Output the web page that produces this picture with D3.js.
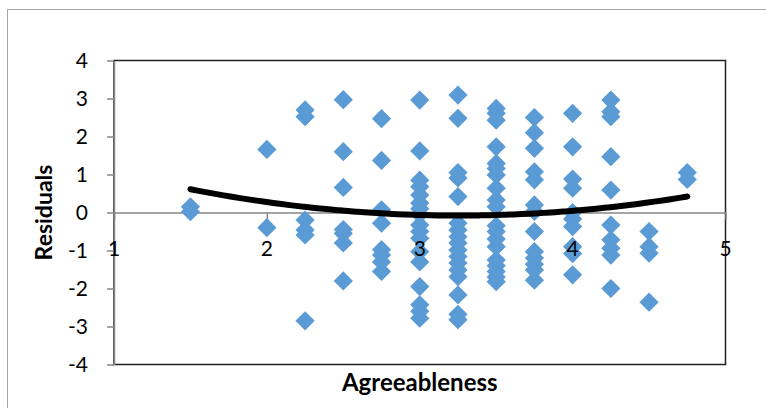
<!DOCTYPE html>
<html>
<head>
<meta charset="utf-8">
<script src="https://cdn.jsdelivr.net/npm/d3@7"></script>
<style>
  body { margin: 0; background: #fff; }
  svg { display: block; font-family: Lato, "Open Sans", sans-serif; }
</style>
</head>
<body>
<svg></svg>
<script>
var width  = 766,
    height = 408;

// agreeableness levels and the residuals seen at each level
var agreeLevels = [1.5, 2, 2.25, 2.5, 2.75, 3, 3.25, 3.5, 3.75, 4, 4.25, 4.5, 4.75];
var residualsByLevel = [
  [0.15, 0.02],
  [1.66, -0.4],
  [2.7, 2.52, -0.2, -0.46, -0.59, -2.85],
  [2.97, 1.6, 0.66, -0.45, -0.55, -0.8, -1.8],
  [2.47, 1.37, 0.07, -0.28, -0.98, -1.12, -1.3, -1.55],
  [2.96, 1.62, 0.85, 0.68, 0.46, 0.25, 0.1, -0.05, -0.33, -0.5, -0.68, -1.03, -1.3, -1.95, -2.43, -2.6, -2.78],
  [3.09, 2.48, 1.05, 0.91, 0.42, -0.28, -0.46, -0.64, -0.8, -0.99, -1.16, -1.33, -1.51, -1.69, -2.17, -2.68, -2.82],
  [2.74, 2.61, 2.43, 1.73, 1.29, 1.16, 0.99, 0.64, 0.33, 0.15, -0.35, -0.5, -0.7, -0.9, -1.25, -1.4, -1.55, -1.7, -1.82],
  [2.5, 2.1, 1.69, 1.07, 0.86, 0.2, 0.03, -0.5, -1.03, -1.2, -1.36, -1.51, -1.78],
  [2.61, 1.73, 0.88, 0.64, 0.0, -0.17, -0.37, -0.9, -1.08, -1.64],
  [2.96, 2.65, 2.52, 1.47, 0.59, -0.33, -0.72, -0.94, -1.12, -2.0],
  [-0.5, -0.9, -1.07, -2.36],
  [1.05, 0.87]
];

var xTicks = [1, 2, 3, 4, 5];
var yTicks = [-4, -3, -2, -1, 0, 1, 2, 3, 4];

// polynomial (order 2) trendline: y = a*(x-h)^2 + k
var trendA = 0.224, trendH = 3.256, trendK = -0.08;
var trendFrom = 1.5, trendTo = 4.75;

var points = [];
agreeLevels.forEach(function(a, i) {
  residualsByLevel[i].forEach(function(r) { points.push({x: a, y: r}); });
});

var x = d3.scaleLinear().domain([1, 5]).range([114, 725.5]);
var y = d3.scaleLinear().domain([-4, 4]).range([364.5, 60.5]);

var svg = d3.select('svg')
  .attr("width", width)
  .attr("height", height);

// chart area border (cut off on the right and bottom)
svg.append("rect")
  .attr("x", 7.5).attr("y", 9.5)
  .attr("width", 900).attr("height", 500)
  .attr("fill", "none")
  .attr("stroke", "#a6a6a6");

// plot area border
svg.append("rect")
  .attr("x", x(1)).attr("y", y(4))
  .attr("width", x(5) - x(1)).attr("height", y(-4) - y(4))
  .attr("fill", "none")
  .attr("stroke", "#222")
  .attr("stroke-width", 1.5);

var yAxis = svg.append("g")
  .attr("transform", "translate(" + x(1) + ",0)")
  .call(d3.axisLeft(y).tickValues(yTicks).tickSize(7).tickSizeOuter(0));

var xAxis = svg.append("g")
  .attr("transform", "translate(0," + y(0) + ")")
  .call(d3.axisBottom(x).tickValues(xTicks).tickSize(7).tickSizeOuter(0));

[yAxis, xAxis].forEach(function(g) {
  g.select(".domain").attr("stroke", "#868686").attr("stroke-width", 1.5);
  g.selectAll(".tick line").attr("stroke", "#868686").attr("stroke-width", 1.5);
  g.selectAll(".tick text").remove();
});

// markers
svg.append("g").selectAll("path")
  .data(points)
  .enter()
    .append("path")
    .attr("d", d3.symbol(d3.symbolSquare, 185))
    .attr("transform", function(d) { return "translate(" + x(d.x) + "," + y(d.y) + ") rotate(45)"; })
    .attr("fill", "#5b9bd5");

// trendline
var trendX = d3.range(0, 61).map(function(i) { return trendFrom + (trendTo - trendFrom) * i / 60; });
var line = d3.line()
  .x(function(d) { return x(d); })
  .y(function(d) { return y(trendA * (d - trendH) * (d - trendH) + trendK); })
  .curve(d3.curveBasis);
svg.append("path")
  .datum(trendX)
  .attr("d", line)
  .attr("fill", "none")
  .attr("stroke", "#000")
  .attr("stroke-width", 6)
  .attr("stroke-linecap", "round");

// tick labels drawn last, on top of the markers
svg.append("g").selectAll("text")
  .data(yTicks)
  .enter()
    .append("text")
    .attr("x", x(1) - 26)
    .attr("y", function(d) { return y(d); })
    .attr("dy", "0.36em")
    .attr("text-anchor", "end")
    .attr("font-size", 21)
    .text(function(d) { return d; });

svg.append("g").selectAll("text")
  .data(xTicks)
  .enter()
    .append("text")
    .attr("x", function(d) { return x(d); })
    .attr("y", y(0) + 43)
    .attr("text-anchor", "middle")
    .attr("font-size", 21)
    .text(function(d) { return d; });

// axis titles
svg.append("text")
  .attr("x", x(3))
  .attr("y", 391)
  .attr("text-anchor", "middle")
  .attr("font-size", 24)
  .attr("font-weight", "bold")
  .text("Agreeableness");

svg.append("text")
  .attr("transform", "translate(52," + y(0) + ") rotate(-90)")
  .attr("text-anchor", "middle")
  .attr("font-size", 23)
  .attr("font-weight", "bold")
  .text("Residuals");
</script>
</body>
</html>
